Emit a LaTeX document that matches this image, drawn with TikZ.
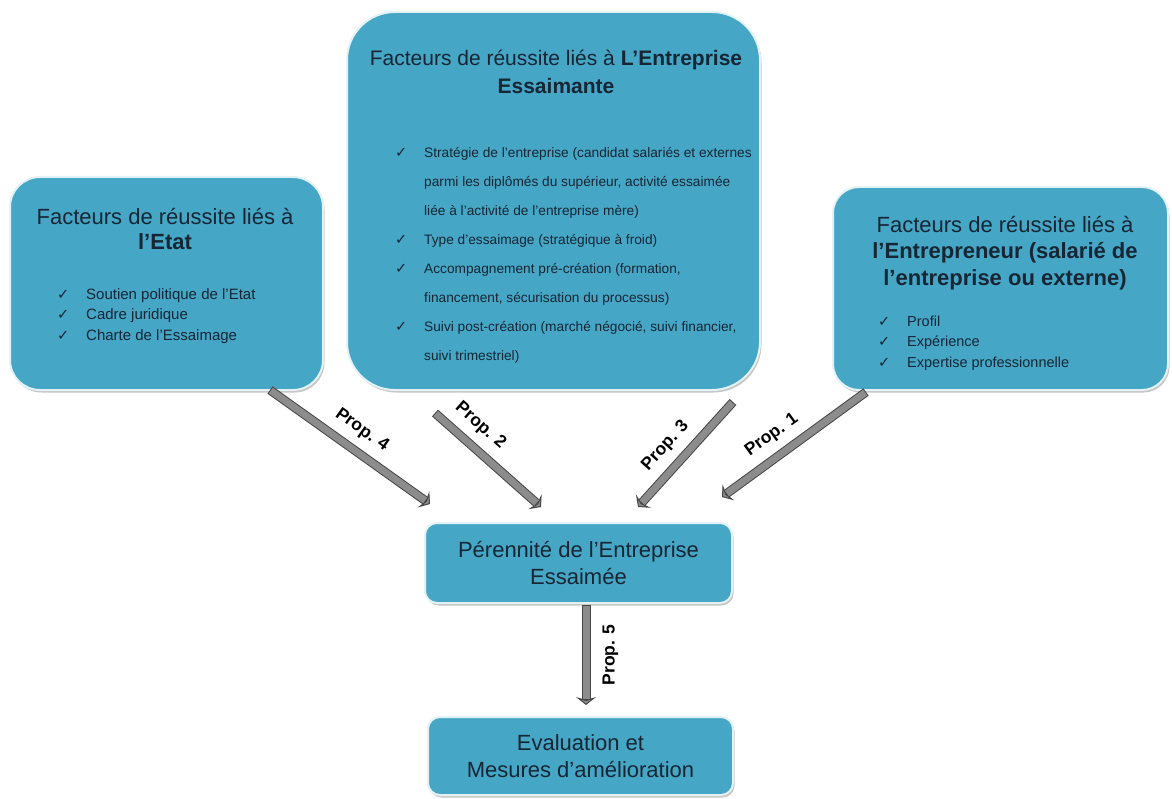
\documentclass[tikz,border=0pt]{standalone}
\usepackage{fontspec}
\setmainfont{Liberation Sans}
\newfontfamily\symfont{DejaVu Sans}
\usetikzlibrary{arrows.meta,shadows,positioning}

\definecolor{boxblue}{RGB}{70,166,198}
\definecolor{boxtext}{RGB}{22,38,52}
\definecolor{bargray}{RGB}{140,140,140}
\definecolor{bardark}{RGB}{70,70,70}

% coche + retrait des listes
\newcommand{\ck}{\makebox[29pt][l]{{\symfont\fontsize{14.5}{14.5}\selectfont ✓}}}

\begin{document}
\begin{tikzpicture}[x=1pt,y=-1pt,
  bigbox/.style={draw=white!85!boxblue, line width=2pt, fill=boxblue, rounded corners=30pt,
    drop shadow={shadow xshift=1.5pt, shadow yshift=-2.5pt, fill=black!50, opacity=.45}, inner sep=0pt},
  smallbox/.style={bigbox, rounded corners=12pt, text=boxtext, align=center,
    font=\fontsize{22}{27}\selectfont},
  titre/.style={text=boxtext, align=center, inner sep=0pt},
  liste/.style={text=boxtext, anchor=west, inner sep=0pt},
  propbar/.style={line width=9pt, draw=bardark,
    -{Stealth[length=8pt,width=20pt,inset=3pt,line width=1pt,fill=bargray]}},
  propfill/.style={line width=7pt, draw=bargray, shorten >=6pt, shorten <=1pt},
  proplabel/.style={font=\bfseries\fontsize{17.5}{17.5}\selectfont, text=black, inner sep=9pt}
]
\useasboundingbox (0,0) rectangle (1172,799);

% cadres du haut
\node[bigbox, minimum width=313pt, minimum height=213pt] (etat) at (166.5,283.5) {};
\node[bigbox, rounded corners=48pt, minimum width=413pt, minimum height=378pt] (essaimante) at (553.5,201) {};
\node[bigbox, rounded corners=26pt, minimum width=335pt, minimum height=203pt] (entrepreneur) at (1000.5,288.5) {};

% titres
\node[titre, font=\fontsize{22}{25}\selectfont] (tetat) at (165,229.5)
  {Facteurs de réussite liés à\\\textbf{l'Etat}};
\node[titre, font=\fontsize{21}{28}\selectfont] (tessaimante) at (556,72)
  {Facteurs de réussite liés à \textbf{L'Entreprise}\\\textbf{Essaimante}};
\node[titre, font=\fontsize{22}{26.5}\selectfont] (tentrepreneur) at (1005,253)
  {Facteurs de réussite liés à\\\textbf{l'Entrepreneur (salarié de}\\\textbf{l'entreprise ou externe)}};

% listes
\node[liste, font=\fontsize{15}{20.5}\selectfont] (letat) at (57,315.7) {%
  \begin{tabular}{@{}l@{}l@{}}
  \ck & Soutien politique de l'Etat\\
  \ck & Cadre juridique\\
  \ck & Charte de l'Essaimage
  \end{tabular}};
\node[liste, font=\fontsize{13.7}{29}\selectfont] (lessaimante) at (395,253.5) {%
  \begin{tabular}{@{}l@{}l@{}}
  \ck & Stratégie de l'entreprise (candidat salariés et externes\\
      & parmi les diplômés du supérieur, activité essaimée\\
      & liée à l'activité de l'entreprise mère)\\
  \ck & Type d'essaimage (stratégique à froid)\\
  \ck & Accompagnement pré-création (formation,\\
      & financement, sécurisation du processus)\\
  \ck & Suivi post-création (marché négocié, suivi financier,\\
      & suivi trimestriel)
  \end{tabular}};
\node[liste, font=\fontsize{14.5}{20.5}\selectfont] (lentrepreneur) at (878,342.7) {%
  \begin{tabular}{@{}l@{}l@{}}
  \ck & Profil\\
  \ck & Expérience\\
  \ck & Expertise professionnelle
  \end{tabular}};

% cadres du bas
\node[smallbox, minimum width=307pt, minimum height=80pt] (perennite) at (578.5,563)
  {Pérennité de l'Entreprise\\Essaimée};
\node[smallbox, minimum width=305pt, minimum height=78pt] (evaluation) at (580.5,756)
  {Evaluation et\\Mesures d'amélioration};

% points des fleches
\coordinate (p4a) at (270,390);
\coordinate (p4b) at (430,504);
\coordinate (p2a) at (435,413);
\coordinate (p2b) at (541,507);
\coordinate (p3a) at (733,402);
\coordinate (p3b) at (638,507);
\coordinate (p1a) at (866,392);
\coordinate (p1b) at (722,497);
\coordinate (p5a) at (586,605);
\coordinate (p5b) at (586,705);

% fleches
\draw[propbar] (p4a) -- (p4b);
\draw[propfill] (p4a) -- (p4b) node[proplabel, midway, sloped, above] (l4) {Prop. 4};
\draw[propbar] (p2a) -- (p2b);
\draw[propfill] (p2a) -- (p2b) node[proplabel, pos=.3, sloped, above] (l2) {Prop. 2};
\draw[propbar] (p3a) -- (p3b);
\draw[propfill] (p3a) -- (p3b) node[proplabel, pos=.55, sloped, above] (l3) {Prop. 3};
\draw[propbar] (p1a) -- (p1b);
\draw[propfill] (p1a) -- (p1b) node[proplabel, pos=.57, sloped, above] (l1) {Prop. 1};
\draw[propbar] (p5a) -- (p5b);
\draw[propfill] (p5a) -- (p5b) node[proplabel, pos=.5, rotate=90, anchor=north, inner sep=13pt] (l5) {Prop. 5};

\end{tikzpicture}
\end{document}
